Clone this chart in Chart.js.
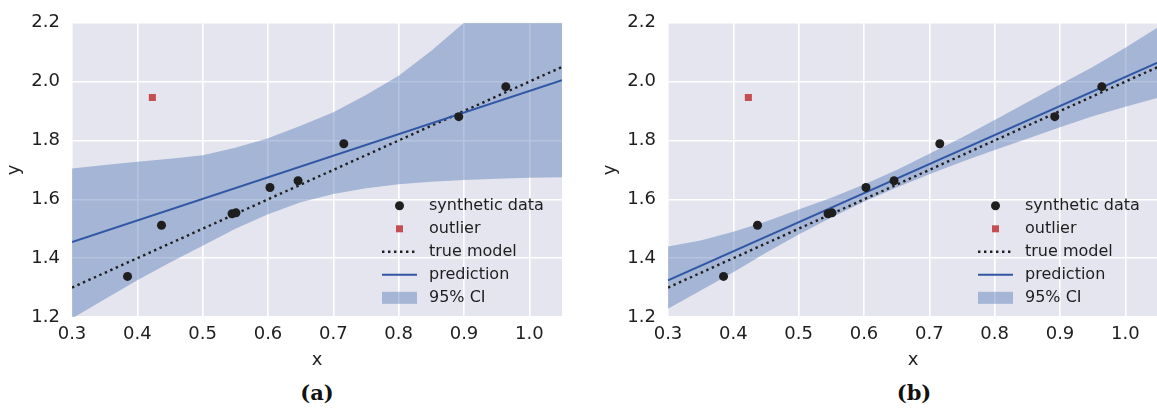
<!DOCTYPE html>
<html>
<head>
<meta charset="utf-8">
<script src="https://cdn.jsdelivr.net/npm/chart.js@4.4.1/dist/chart.umd.min.js"></script>
<style>
  html, body { margin: 0; padding: 0; background: #fff; }
  body { width: 1157px; height: 410px; overflow: hidden; position: relative; }
  .panel { position: absolute; top: 0; width: 580px; height: 375px; }
  .caption { position: absolute; top: 380px; width: 100px; text-align: center; font: bold 21px 'DejaVu Serif', serif; color: #111; }
</style>
</head>
<body>
<div class="panel" style="left:0"><canvas id="chartA" width="580" height="375"></canvas></div>
<div class="panel" style="left:596px"><canvas id="chartB" width="580" height="375"></canvas></div>
<div class="caption" style="left:267px">(a)</div>
<div class="caption" style="left:864px">(b)</div>
<script>
const xTicks = [0.3, 0.4, 0.5, 0.6, 0.7, 0.8, 0.9, 1.0];
const yTicks = [1.2, 1.4, 1.6, 1.8, 2.0, 2.2];

// observations
const sampleX = [0.385, 0.437, 0.545, 0.551, 0.603, 0.646, 0.716, 0.892, 0.964];
const sampleY = [1.338, 1.512, 1.551, 1.554, 1.640, 1.663, 1.789, 1.881, 1.983];
const outlierX = [0.423];
const outlierY = [1.946];

// straight lines, end points only
const lineX = [0.3, 1.05];
const trueY = [1.30, 2.05];
const predA = [1.455, 2.005];
const predB = [1.325, 2.065];

// 95% CI bands
const bandX = [0.3, 0.35, 0.4, 0.45, 0.5, 0.55, 0.6, 0.65, 0.7, 0.75, 0.8, 0.85, 0.9, 0.95, 1.0, 1.05];
const bandAUpper = [1.705, 1.717, 1.728, 1.738, 1.750, 1.775, 1.808, 1.850, 1.896, 1.955, 2.020, 2.105, 2.200, 2.290, 2.380, 2.470];
const bandALower = [1.195, 1.260, 1.325, 1.385, 1.442, 1.500, 1.549, 1.590, 1.618, 1.638, 1.651, 1.660, 1.666, 1.670, 1.673, 1.675];
const bandBUpper = [1.440, 1.460, 1.490, 1.525, 1.565, 1.605, 1.650, 1.700, 1.755, 1.810, 1.870, 1.930, 1.990, 2.050, 2.115, 2.185];
const bandBLower = [1.228, 1.290, 1.352, 1.418, 1.480, 1.538, 1.592, 1.640, 1.685, 1.728, 1.768, 1.806, 1.845, 1.882, 1.915, 1.945];

const legendLabels = ['synthetic data', 'outlier', 'true model', 'prediction', '95% CI'];

const BG = '#e5e5ef';
const BAND = 'rgba(76, 114, 176, 0.42)';
const PRED = '#3157a4';
const RED = '#c44e52';
const INK = '#1e1e1e';
const FONT = 'DejaVu Sans';

const pts = (xs, ys) => xs.map((x, i) => ({ x, y: ys[i] }));

const plotBackground = {
  id: 'plotBackground',
  beforeDraw(chart) {
    const { ctx, chartArea: a } = chart;
    ctx.save();
    ctx.fillStyle = BG;
    ctx.fillRect(a.left, a.top, a.width, a.height);
    ctx.restore();
  },
};

const insideLegend = {
  id: 'insideLegend',
  afterDraw(chart) {
    const { ctx, chartArea } = chart;
    const x0 = chartArea.left + 310;
    const x1 = x0 + 35;
    const xm = (x0 + x1) / 2;
    ctx.save();
    ctx.font = `16px "${FONT}"`;
    ctx.textBaseline = 'middle';
    legendLabels.forEach((label, i) => {
      const y = chartArea.top + 183 + i * 23;
      if (i === 0) {
        ctx.fillStyle = INK;
        ctx.beginPath();
        ctx.arc(xm, y, 4.5, 0, Math.PI * 2);
        ctx.fill();
      } else if (i === 1) {
        ctx.fillStyle = RED;
        ctx.fillRect(xm - 3.5, y - 3.5, 7, 7);
      } else if (i === 2 || i === 3) {
        ctx.strokeStyle = i === 2 ? INK : PRED;
        ctx.lineWidth = i === 2 ? 2.4 : 2;
        ctx.setLineDash(i === 2 ? [2.4, 3.6] : []);
        ctx.beginPath();
        ctx.moveTo(x0, y);
        ctx.lineTo(x1, y);
        ctx.stroke();
        ctx.setLineDash([]);
      } else {
        ctx.fillStyle = BAND;
        ctx.fillRect(x0, y - 6, 35, 12);
      }
      ctx.fillStyle = INK;
      ctx.fillText(label, chartArea.left + 357, y);
    });
    ctx.restore();
  },
};

function axis(min, max, ticks, title, isX) {
  const font = { family: FONT, size: 18 };
  return {
    type: 'linear',
    min,
    max,
    afterBuildTicks: (a) => { a.ticks = ticks.map(value => ({ value })); },
    afterFit: (a) => { if (isX) a.height = 58; else a.width = 72; },
    grid: { color: '#ffffff', lineWidth: 1.6, drawTicks: false },
    border: { display: false },
    ticks: { color: INK, font, padding: isX ? 7 : 12, autoSkip: false, maxRotation: 0, callback: (v) => v.toFixed(1) },
    title: { display: true, text: title, color: INK, font, padding: { top: 4, bottom: 4 } },
  };
}

function renderPanel(canvas, pred, upper, lower) {
  new Chart(canvas, {
    type: 'scatter',
    data: {
      datasets: [
        { label: '95% CI', data: pts(bandX, upper), showLine: true, borderWidth: 0, pointRadius: 0, backgroundColor: BAND, fill: '+1', order: 5, clip: 0 },
        { label: 'ci lower', data: pts(bandX, lower), showLine: true, borderWidth: 0, pointRadius: 0, fill: false, order: 5, clip: 0 },
        { label: 'true model', data: pts(lineX, trueY), showLine: true, borderColor: INK, borderWidth: 2.4, borderDash: [2.4, 3.6], pointRadius: 0, order: 3, clip: 0 },
        { label: 'prediction', data: pts(lineX, pred), showLine: true, borderColor: PRED, borderWidth: 2, pointRadius: 0, order: 2, clip: 0 },
        { label: 'synthetic data', data: pts(sampleX, sampleY), pointRadius: 4.5, backgroundColor: INK, borderWidth: 0, order: 1 },
        { label: 'outlier', data: pts(outlierX, outlierY), pointStyle: 'rect', pointRadius: 5, backgroundColor: RED, borderWidth: 0, order: 1 },
      ],
    },
    options: {
      responsive: false,
      animation: false,
      layout: { padding: { left: 0, top: 20, right: 18, bottom: 0 } },
      plugins: { legend: { display: false }, tooltip: { enabled: false } },
      scales: {
        x: axis(0.3, 1.05, xTicks, 'x', true),
        y: axis(1.2, 2.2, yTicks, 'y', false),
      },
    },
    plugins: [plotBackground, insideLegend],
  });
}

renderPanel(document.getElementById('chartA'), predA, bandAUpper, bandALower);
renderPanel(document.getElementById('chartB'), predB, bandBUpper, bandBLower);
</script>
</body>
</html>
